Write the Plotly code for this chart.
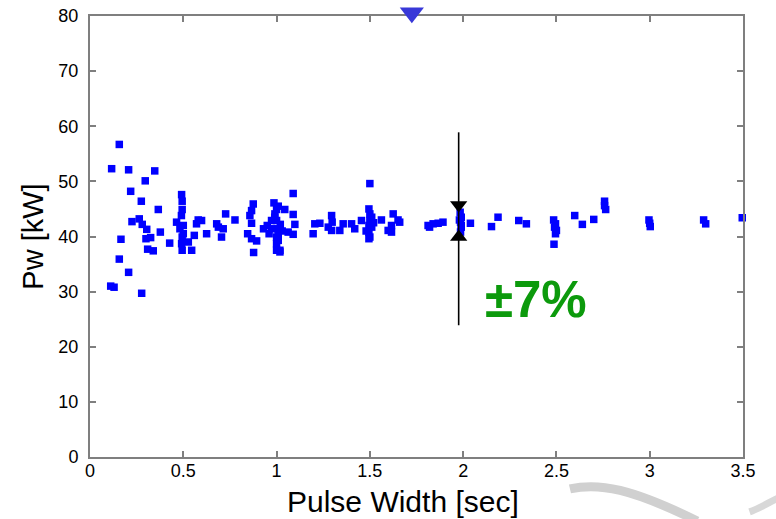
import plotly.graph_objects as go

# ---- data ----
pulse_width = [
    0.157, 0.116, 0.207, 0.347, 0.296, 0.218, 0.275, 0.366, 0.225, 0.264, 0.280, 0.304,
    0.377, 0.166, 0.300, 0.325, 0.309, 0.339, 0.427, 0.157, 0.207, 0.111, 0.129, 0.277,
    0.491, 0.494, 0.494, 0.490, 0.464, 0.482, 0.500, 0.494, 0.491, 0.494, 0.500,
    0.527, 0.545, 0.559, 0.571, 0.598, 0.625, 0.679, 0.688, 0.714, 0.705, 0.727, 0.777, 0.580,
    0.875, 0.866, 0.857, 0.866, 0.845, 0.866, 0.893, 0.877,
    0.986, 1.009, 0.991, 0.973, 1.000, 0.930, 0.973, 1.009, 1.000, 1.009, 1.000, 1.000,
    1.018, 0.950, 0.960, 1.000, 1.044, 1.089, 1.089, 1.098, 1.062, 1.089, 1.009, 1.018,
    0.990, 1.020, 1.030,
    1.205, 1.196, 1.232, 1.277, 1.295, 1.298, 1.295, 1.339, 1.357, 1.402, 1.419, 1.455,
    1.500, 1.495, 1.500, 1.510, 1.500, 1.495, 1.510, 1.495, 1.500, 1.495, 1.480, 1.520,
    1.562, 1.625, 1.651, 1.660, 1.616, 1.598, 1.616,
    1.812, 1.839, 1.866, 1.892, 1.820,
    1.984, 1.990, 1.986, 1.990, 1.986, 1.980, 1.990,
    2.039, 2.152, 2.187, 2.298, 2.339,
    2.485, 2.495, 2.490, 2.500, 2.495, 2.487,
    2.598, 2.639, 2.700, 2.758, 2.758, 2.764,
    2.996, 3.000, 3.003, 3.289, 3.300, 3.496, 3.508,
]
power_kw = [
    56.7, 52.3, 52.1, 51.9, 50.1, 48.2, 46.4, 44.9, 42.7, 43.2, 42.2, 41.3,
    40.8, 39.5, 39.6, 39.8, 37.7, 37.4, 38.8, 35.9, 33.5, 31.0, 30.8, 29.7,
    47.6, 46.4, 44.9, 43.8, 42.6, 41.4, 42.0, 39.9, 38.7, 37.5, 40.5,
    39.0, 37.5, 40.2, 42.3, 42.9, 40.5, 42.3, 41.7, 41.4, 39.9, 44.1, 43.0, 43.0,
    45.9, 44.7, 43.8, 42.4, 40.5, 39.6, 39.2, 37.1,
    46.1, 45.5, 44.1, 42.9, 42.9, 41.4, 41.4, 41.4, 39.9, 40.2, 38.7, 37.5,
    37.2, 42.0, 40.5, 44.9, 44.9, 44.0, 47.8, 42.2, 40.8, 40.4, 39.3, 37.5,
    43.5, 42.2, 41.0,
    42.3, 40.5, 42.4, 41.7, 43.8, 42.6, 41.1, 41.1, 42.3, 42.3, 41.4, 42.9,
    49.6, 45.0, 44.1, 43.5, 42.9, 42.0, 41.7, 40.8, 39.9, 39.6, 41.0, 42.5,
    43.0, 44.1, 43.0, 42.6, 42.0, 41.1, 40.8,
    42.0, 42.3, 42.4, 42.6, 41.7,
    44.4, 43.5, 42.6, 41.7, 40.8, 43.0, 42.0,
    42.4, 41.8, 43.5, 42.9, 42.3,
    43.0, 42.3, 41.7, 41.1, 40.5, 38.6,
    43.8, 42.2, 43.1, 46.4, 45.6, 44.9,
    43.0, 42.4, 41.8, 43.0, 42.3, 43.4, 42.6,
]

x_ticks = [0, 0.5, 1, 1.5, 2, 2.5, 3, 3.5]
x_tick_labels = ["0", "0.5", "1", "1.5", "2", "2.5", "3", "3.5"]
y_ticks = [0, 10, 20, 30, 40, 50, 60, 70, 80]
x_title = "Pulse Width [sec]"
y_title = "Pw [kW]"

marker_top_x = [1.725]
marker_top_y = [80.6]
spread_x = [1.976, 1.976]
spread_y = [23.9, 58.9]
arrow_down_y = [45.7]
arrow_up_y = [39.9]
spread_label = "±7%"
spread_label_pos = (2.389, 28.6)

FONT = "Liberation Sans, Arial, Helvetica, sans-serif"
AXIS_GRAY = "#7f7f7f"

W, H = 776, 519
M_L, M_R, M_T, M_B = 90, 33, 0, 62
PLOT_H = 441.0
Y_MAX = 80.0
PAPER_H = H - M_T - M_B
y_dom_top = PLOT_H / PAPER_H
y2_max = Y_MAX / y_dom_top

fig = go.Figure()

fig.add_trace(go.Scatter(
    x=pulse_width, y=power_kw, mode="markers",
    marker=dict(symbol="square", size=7.5, color="#0000ff", line=dict(width=0)),
    cliponaxis=False, hoverinfo="x+y", showlegend=False,
))

# spread line with arrowheads
fig.add_trace(go.Scatter(
    x=spread_x, y=spread_y, mode="lines",
    line=dict(color="black", width=1.6), showlegend=False, hoverinfo="skip",
))
fig.add_trace(go.Scatter(
    x=[spread_x[0]], y=arrow_down_y, mode="markers",
    marker=dict(symbol="triangle-down", size=15, color="black"),
    showlegend=False, hoverinfo="skip",
))
fig.add_trace(go.Scatter(
    x=[spread_x[0]], y=arrow_up_y, mode="markers",
    marker=dict(symbol="triangle-up", size=15, color="black"),
    showlegend=False, hoverinfo="skip",
))

# blue marker straddling the top edge (on a hidden, taller axis with the same scale)
fig.add_trace(go.Scatter(
    x=marker_top_x, y=marker_top_y, mode="markers", yaxis="y2",
    marker=dict(symbol="triangle-down", size=21, color="#3838d8"),
    cliponaxis=False, showlegend=False, hoverinfo="skip",
))

fig.add_annotation(
    x=spread_label_pos[0], y=spread_label_pos[1], text="<b>" + spread_label + "</b>",
    showarrow=False, font=dict(family=FONT, size=51, color="#0c9a0c"),
    xanchor="center", yanchor="middle",
)

# x-axis title (placed slightly left of centre, as in the reference)
fig.add_annotation(
    xref="paper", yref="paper", x=(403 - M_L) / (W - M_L - M_R), y=(PAPER_H - 501 + M_T) / PAPER_H,
    text=x_title, showarrow=False, font=dict(family=FONT, size=30, color="black"),
    xanchor="center", yanchor="middle",
)

# faint watermark stroke at the bottom right
fig.add_shape(
    type="path", xref="paper", yref="paper",
    path="M 0.735 -0.07 C 0.78 -0.055, 0.83 -0.07, 0.93 -0.14",
    line=dict(color="#d0d0d0", width=9), layer="below",
)
fig.add_shape(
    type="path", xref="paper", yref="paper",
    path="M 1.01 -0.12 C 1.03 -0.11, 1.05 -0.09, 1.07 -0.08",
    line=dict(color="#d8d8d8", width=7), layer="below",
)

axis_common = dict(
    showline=True, linecolor=AXIS_GRAY, linewidth=2, mirror="ticks",
    ticks="inside", ticklen=6, tickwidth=2, tickcolor=AXIS_GRAY,
    showgrid=False, zeroline=False, automargin=False,
    tickfont=dict(family=FONT, size=18, color="black"),
)

fig.update_layout(
    xaxis=dict(
        range=[0, 3.5], tickvals=x_ticks, ticktext=x_tick_labels,
        ticklabelstandoff=-4,
        **axis_common,
    ),
    yaxis=dict(
        range=[0, Y_MAX], tickvals=y_ticks, domain=[0, y_dom_top],
        title=dict(text=y_title, font=dict(family=FONT, size=29, color="black"), standoff=6),
        ticklabelstandoff=6,
        **axis_common,
    ),
    yaxis2=dict(
        range=[0, y2_max], domain=[0, 1], anchor="x",
        visible=False, showgrid=False, zeroline=False,
    ),
    width=W, height=H,
    margin=dict(l=M_L, r=M_R, t=M_T, b=M_B, pad=0),
    plot_bgcolor="rgba(0,0,0,0)", paper_bgcolor="white",
    showlegend=False,
)

fig.write_html(
    "out.html",
    config={"displayModeBar": False},
    post_script="document.body.style.margin='0';",
)
